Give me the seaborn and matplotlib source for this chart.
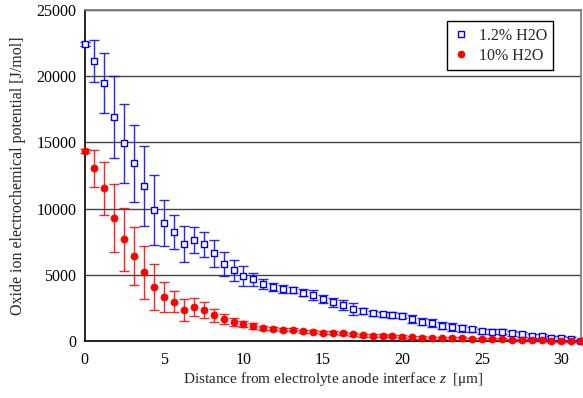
import numpy as np
import pandas as pd
import matplotlib
matplotlib.use("Agg")
import matplotlib.pyplot as plt
from matplotlib.lines import Line2D
import seaborn as sns

# ---- data ----
distance_um = [0.0, 0.625, 1.25, 1.875, 2.5, 3.125, 3.75, 4.375, 5.0, 5.625,
               6.25, 6.875, 7.5, 8.125, 8.75, 9.375, 10.0, 10.625, 11.25, 11.875,
               12.5, 13.125, 13.75, 14.375, 15.0, 15.625, 16.25, 16.875, 17.5, 18.125,
               18.75, 19.375, 20.0, 20.625, 21.25, 21.875, 22.5, 23.125, 23.75, 24.375,
               25.0, 25.625, 26.25, 26.875, 27.5, 28.125, 28.75, 29.375, 30.0, 30.625,
               31.25]

h2o_1p2 = [22430, 21170, 19490, 16920, 14950, 13440, 11710, 9890, 8930, 8230,
           7330, 7630, 7300, 6620, 5820, 5360, 4910, 4660, 4280, 4050,
           3930, 3850, 3650, 3470, 3160, 2920, 2720, 2400, 2270, 2090,
           2040, 1960, 1910, 1660, 1460, 1340, 1170, 1050, 960, 880,
           750, 700, 700, 580, 510, 400, 400, 200, 200, 130,
           20]
h2o_1p2_err = [150, 1590, 2270, 3060, 2980, 2910, 3020, 2640, 1740, 1260,
               1340, 980, 970, 1030, 890, 790, 730, 500, 380, 300,
               300, 250, 280, 380, 300, 370, 380, 440, 230, 170,
               190, 210, 190, 310, 280, 310, 290, 280, 250, 220,
               200, 200, 200, 180, 180, 170, 160, 150, 150, 150,
               150]

h2o_10 = [14350, 13040, 11550, 9310, 7680, 6440, 5190, 4060, 3350, 2970,
          2340, 2560, 2340, 1960, 1640, 1460, 1260, 1130, 1000, 930,
          850, 850, 750, 720, 640, 620, 580, 510, 430, 400,
          400, 380, 330, 280, 260, 210, 240, 200, 200, 170,
          170, 150, 150, 80, 75, 75, 50, 30, 30, 30,
          30]
h2o_10_err = [150, 1380, 2000, 2560, 2360, 2170, 2000, 1740, 1120, 800,
              810, 680, 590, 500, 380, 300, 230, 200, 150, 130,
              120, 120, 120, 120, 120, 120, 120, 120, 120, 120,
              100, 100, 100, 100, 100, 100, 100, 100, 100, 100,
              80, 80, 80, 80, 80, 80, 80, 80, 80, 80,
              80]

series_labels = ["1.2% H2O", "10% H2O"]
x_ticks = [0, 5, 10, 15, 20, 25, 30]
y_ticks = [0, 5000, 10000, 15000, 20000, 25000]

df = pd.concat([
    pd.DataFrame({"z": distance_um, "phi": h2o_1p2, "err": h2o_1p2_err, "series": series_labels[0]}),
    pd.DataFrame({"z": distance_um, "phi": h2o_10, "err": h2o_10_err, "series": series_labels[1]}),
], ignore_index=True)

# ---- style ----
sns.set_style("white")
plt.rcParams["font.family"] = ["Liberation Serif", "DejaVu Serif"]
plt.rcParams["mathtext.fontset"] = "custom"
plt.rcParams["mathtext.it"] = "Liberation Serif:italic"
plt.rcParams["mathtext.rm"] = "Liberation Serif"

fig = plt.figure(figsize=(5.83, 3.98), dpi=100)
ax = fig.add_axes([0.145, 0.143, 0.852, 0.832])

colors = {series_labels[0]: "#0000FF", series_labels[1]: "#FF0000"}

# error bars
for name in series_labels:
    sub = df[df["series"] == name]
    ax.errorbar(sub["z"], sub["phi"], yerr=sub["err"], fmt="none",
                ecolor=colors[name], elinewidth=1.0, capsize=3.5, capthick=1.0,
                alpha=0.85, zorder=3, clip_on=False)

# markers
sub_b = df[df["series"] == series_labels[0]]
sns.scatterplot(data=sub_b, x="z", y="phi", ax=ax, marker="s", s=22,
                facecolor="white", edgecolor="#0000FF", linewidth=1.0,
                zorder=4, clip_on=False, legend=False)
sub_r = df[df["series"] == series_labels[1]]
sns.scatterplot(data=sub_r, x="z", y="phi", ax=ax, marker="o", s=26,
                color="#FF0000", edgecolor="#FF0000", linewidth=0.5,
                zorder=5, clip_on=False, legend=False)

ax.set_xlim(0, 31.25)
ax.set_ylim(0, 25000)
ax.set_xticks(x_ticks)
ax.set_yticks(y_ticks)
ax.yaxis.grid(True, color="#444444", linewidth=1.0)
ax.xaxis.grid(False)
ax.set_axisbelow(True)

for side in ["left", "bottom"]:
    ax.spines[side].set_color("black")
    ax.spines[side].set_linewidth(1.2)
for side in ["top", "right"]:
    ax.spines[side].set_color("#777777")
    ax.spines[side].set_linewidth(1.2)

ax.tick_params(axis="both", direction="in", length=4, width=1, colors="black",
               labelsize=11.5, pad=8)
ax.tick_params(axis="y", pad=6)

ax.set_xlabel(r"Distance from electrolyte anode interface $z$  [μm]", fontsize=11, labelpad=1)
ax.set_ylabel("Oxide ion electrochemical potential [J/mol]", fontsize=11.5, labelpad=7)

handles = [
    Line2D([], [], linestyle="none", marker="s", markersize=4.5, markerfacecolor="white",
           markeredgecolor="#0000FF", markeredgewidth=1.0),
    Line2D([], [], linestyle="none", marker="o", markersize=4.5, color="#FF0000"),
]
leg = ax.legend(handles, series_labels, loc="upper right",
                bbox_to_anchor=(0.96, 0.99), fontsize=11.5, frameon=True,
                fancybox=False, edgecolor="black", framealpha=1,
                handlelength=1.0, handletextpad=0.6, borderpad=0.4, labelspacing=0.25)
leg.get_frame().set_linewidth(1.0)

fig.savefig("out.png", dpi=100)
